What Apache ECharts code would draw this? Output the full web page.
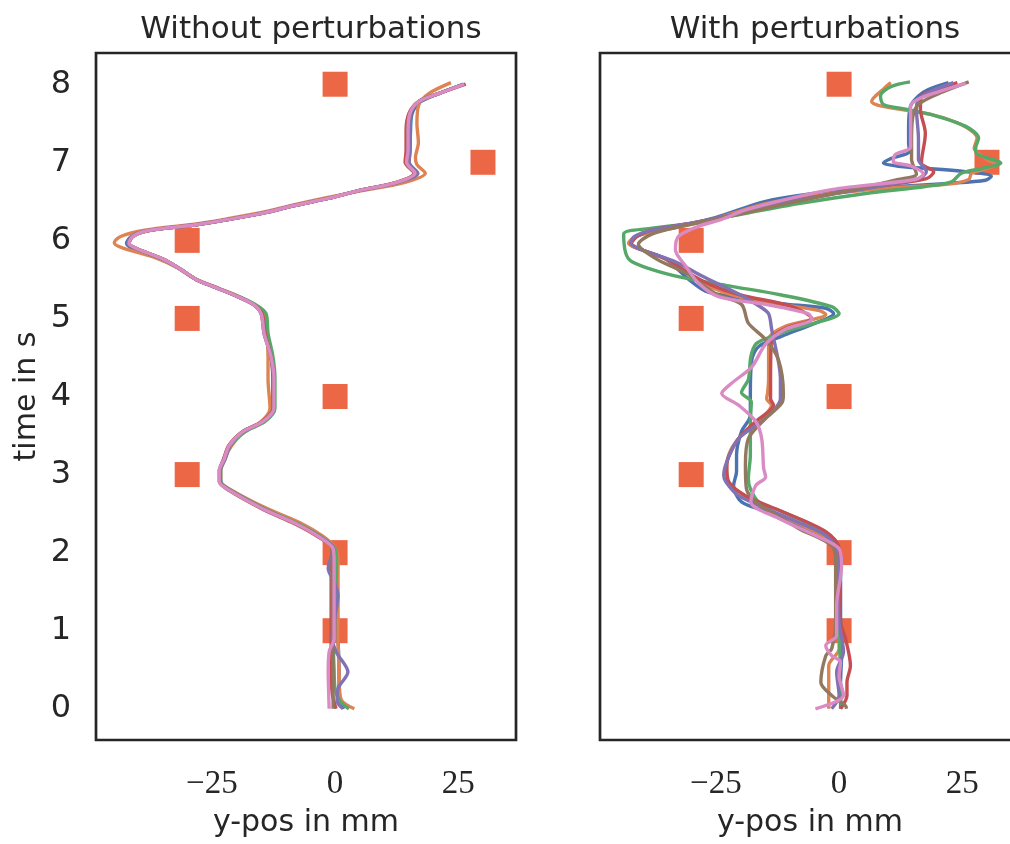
<!DOCTYPE html>
<html><head><meta charset="utf-8">
<script src="https://cdn.jsdelivr.net/npm/echarts@6/dist/echarts.min.js"></script>
<style>html,body{margin:0;padding:0;overflow:hidden;background:#fff}#c{width:1020px;height:844px}</style>
</head><body><div id="c"></div>
<script>
// ---- data ----
const titles = ['Without perturbations', 'With perturbations'];
const xTicks = [-25, 0, 25];
const yTicks = [0, 1, 2, 3, 4, 5, 6, 7, 8];
const targetX = [0, 30, -30, -30, 0, -30, 0, 0];
const targetT = [8, 7, 6, 5, 4, 3, 2, 1];
const seriesNames = ['blue', 'orange', 'green', 'red', 'purple', 'brown', 'pink'];

// left panel (x mm, t s)
const L_blue = [[26,8.0],[21,7.88],[17.2,7.77],[15.6,7.62],[15.3,7.4],[15.2,7.15],[15,7.0],[16.6,6.86],[12.6,6.74],[5,6.64],[-1.2,6.54],[-8,6.45],[-14.6,6.35],[-21.5,6.27],[-28.2,6.2],[-38.5,6.12],[-41.5,6.04],[-42.3,5.96],[-40.8,5.89],[-35,5.76],[-31.6,5.64],[-28.2,5.5],[-24.8,5.41],[-20.5,5.3],[-16.6,5.18],[-14.7,5.06],[-14,4.81],[-13,4.51],[-12.6,4.22],[-12.6,3.85],[-14.6,3.68],[-18.5,3.55],[-21.3,3.37],[-22.6,3.2],[-23.3,3.05],[-23.2,2.91],[-21.3,2.8],[-14.4,2.56],[-7.6,2.37],[-2.8,2.2],[0,2.05],[0.4,1.88],[0.4,1.4],[0.6,0.9],[0.8,0.5],[0.8,0.2],[1.8,0]];
const L_orange = [[23.5,8.02],[19,7.88],[17,7.74],[16.6,7.5],[16.9,7.25],[16.3,7.06],[16.6,6.97],[18.3,6.86],[14,6.74],[5,6.63],[-1.5,6.55],[-8,6.46],[-14.6,6.36],[-21.5,6.28],[-28.2,6.21],[-38.6,6.13],[-43.5,6.05],[-44.8,5.97],[-43,5.9],[-36.5,5.78],[-32,5.65],[-28.5,5.51],[-25,5.42],[-20.5,5.31],[-16.8,5.19],[-14.6,5.06],[-13.9,4.81],[-13.6,4.51],[-13.6,4.22],[-13.2,3.85],[-15,3.68],[-18.5,3.55],[-21,3.37],[-22.5,3.2],[-23.2,3.05],[-23.2,2.91],[-21,2.8],[-14,2.57],[-7,2.38],[-2.5,2.21],[0,2.06],[0.6,1.88],[0.6,1.4],[0.6,0.9],[0.8,0.5],[0.9,0.25],[1.4,0.1],[3.9,0]];
const L_green = [[26,8.0],[21,7.88],[17,7.78],[15.3,7.63],[15,7.4],[15,7.15],[14.7,7.0],[16.4,6.86],[12.6,6.74],[5,6.64],[-1.2,6.54],[-8,6.45],[-14.6,6.35],[-21.5,6.27],[-28.2,6.2],[-38.3,6.12],[-41.2,6.05],[-41.9,5.96],[-40.5,5.9],[-35,5.76],[-31.6,5.64],[-28.2,5.5],[-24.8,5.41],[-20.3,5.3],[-16.2,5.18],[-14,5.06],[-13.6,4.81],[-12.6,4.51],[-12.2,4.22],[-12.2,3.85],[-14.2,3.68],[-18.2,3.55],[-21.2,3.37],[-22.3,3.2],[-23.2,3.05],[-23.2,2.91],[-21.2,2.8],[-14.2,2.56],[-7.5,2.37],[-2.8,2.2],[0,2.05],[0.3,1.88],[0,1.4],[-0.4,0.9],[-0.2,0.5],[0,0.25],[1,0.1],[2.8,0]];
const L_red = [[26.5,8.0],[21,7.88],[17,7.78],[15,7.63],[14.4,7.4],[14.4,7.15],[14.2,7.0],[16,6.86],[12.2,6.74],[5,6.64],[-1.2,6.54],[-8,6.45],[-14.6,6.35],[-21.5,6.27],[-28.2,6.2],[-38.3,6.12],[-41,6.05],[-41.8,5.96],[-40.4,5.9],[-34.9,5.76],[-31.6,5.64],[-28.2,5.5],[-24.8,5.41],[-20.5,5.3],[-16.6,5.18],[-14.8,5.06],[-14.2,4.81],[-13,4.51],[-12.6,4.22],[-12.6,3.85],[-14.8,3.68],[-18.8,3.55],[-21.6,3.37],[-22.6,3.2],[-23.4,3.05],[-23.4,2.91],[-21.6,2.8],[-14.8,2.56],[-8.2,2.37],[-3.4,2.2],[-0.6,2.05],[-0.8,1.88],[-0.8,1.4],[-0.8,0.9],[-0.8,0.5],[-0.6,0.2],[0.2,0]];
const L_purple = [[26,8.0],[21,7.88],[17,7.78],[15.4,7.63],[15.2,7.4],[15.2,7.15],[15,7.0],[16.8,6.86],[12.6,6.74],[5,6.64],[-1.2,6.54],[-8,6.45],[-14.6,6.35],[-21.5,6.27],[-28.2,6.2],[-38.4,6.12],[-41.3,6.05],[-42,5.96],[-40.6,5.9],[-35,5.76],[-31.6,5.64],[-28.2,5.5],[-24.8,5.41],[-20.5,5.3],[-16.6,5.18],[-15,5.06],[-14.4,4.81],[-13,4.51],[-12.4,4.22],[-12.4,3.85],[-14.6,3.68],[-18.7,3.55],[-21.3,3.37],[-22.3,3.2],[-23.3,3.05],[-23.3,2.91],[-21.3,2.8],[-14.4,2.56],[-7.8,2.37],[-3,2.2],[-0.3,2.05],[-1.4,1.8],[0,1.6],[0.6,1.45],[0,1.2],[-0.6,0.9],[0.3,0.72],[2.6,0.47],[0.6,0.26],[0.4,0.1],[1.6,0]];
const L_brown = [[26.2,8.0],[21,7.88],[17,7.78],[15.2,7.63],[14.8,7.4],[14.8,7.15],[14.5,7.0],[16.2,6.86],[12.4,6.74],[5,6.64],[-1.2,6.54],[-8,6.45],[-14.6,6.35],[-21.5,6.27],[-28.2,6.2],[-38.3,6.12],[-41,6.05],[-41.8,5.96],[-40.4,5.9],[-34.9,5.76],[-31.6,5.64],[-28.2,5.5],[-24.8,5.41],[-20.5,5.3],[-16.6,5.18],[-15,5.06],[-14.4,4.81],[-13,4.51],[-12.4,4.22],[-12.4,3.85],[-14.6,3.68],[-18.7,3.55],[-21.5,3.37],[-22.5,3.2],[-23.5,3.05],[-23.5,2.91],[-21.5,2.8],[-14.6,2.56],[-7.9,2.37],[-3.2,2.2],[-0.6,2.05],[-0.6,1.5],[-0.5,0.9],[-0.4,0.5],[-0.4,0]];
const L_pink = [[26.2,8.0],[21,7.88],[17,7.78],[15.2,7.63],[14.8,7.4],[14.8,7.15],[14.5,7.0],[16.2,6.86],[12.4,6.74],[5,6.64],[-1.2,6.54],[-8,6.45],[-14.6,6.35],[-21.5,6.27],[-28.2,6.2],[-38.3,6.12],[-41,6.05],[-41.8,5.96],[-40.4,5.9],[-34.9,5.76],[-31.6,5.64],[-28.2,5.5],[-24.8,5.41],[-20.5,5.3],[-16.6,5.18],[-15,5.06],[-14.4,4.81],[-13,4.51],[-12.4,4.22],[-12.4,3.85],[-14.6,3.68],[-18.7,3.55],[-21.5,3.37],[-22.5,3.2],[-23.5,3.05],[-23.5,2.91],[-21.5,2.8],[-14.6,2.56],[-7.9,2.37],[-3.2,2.2],[-0.4,2.05],[-0.2,1.88],[-0.2,1.4],[-0.2,0.9],[-1.2,0.73],[-1.4,0.47],[-1.3,0.2],[-1.2,0]];

// right panel (x mm, t s)
const R_blue = [[22.2,8.02],[18,7.93],[16.1,7.85],[14.5,7.72],[14.1,7.45],[14.1,7.25],[14.3,7.14],[10.6,7.05],[9,6.99],[12,6.95],[25.7,6.88],[30.9,6.82],[29.7,6.77],[22.2,6.73],[12,6.69],[-1.5,6.63],[-14.9,6.5],[-25.1,6.29],[-35.2,6.14],[-41.3,6.05],[-42.3,5.95],[-40.1,5.88],[-35.2,5.76],[-30.5,5.5],[-27.1,5.35],[-21.8,5.28],[-11.7,5.19],[-2.7,5.13],[-1.1,5.06],[-4.8,4.94],[-11.7,4.77],[-16.3,4.64],[-17.7,4.47],[-18,4.04],[-18,3.76],[-19.8,3.55],[-20.8,3.25],[-20.8,3.04],[-21.4,2.86],[-19.8,2.65],[-14.9,2.53],[-8.2,2.35],[-1.5,2.15],[0.3,1.96],[0.3,1.11],[0.5,0.68],[0.3,0.34],[0.3,0]];
const R_orange = [[10.5,8.02],[9.2,7.95],[6.6,7.78],[8.6,7.72],[18.8,7.61],[25.5,7.46],[28,7.31],[27.4,7.18],[29.7,7.05],[31.7,6.97],[26.9,6.86],[26.3,6.78],[22.2,6.72],[12,6.68],[-1.5,6.6],[-14.9,6.47],[-25,6.28],[-35,6.14],[-41,6.06],[-42.7,5.96],[-40,5.88],[-34.5,5.74],[-30,5.55],[-26,5.4],[-21,5.29],[-11.7,5.18],[-4,5.1],[-2.7,5.05],[-10.9,4.9],[-14.3,4.73],[-14.3,4.22],[-14.5,4.05],[-14.7,3.97],[-13.7,3.89],[-16,3.7],[-20.4,3.46],[-22.4,3.25],[-22.8,3.04],[-22.6,2.91],[-20.4,2.78],[-13.7,2.53],[-6.8,2.33],[-1.5,2.14],[0,1.88],[0,1.2],[0,0.77],[-2.1,0.55],[-2.1,0]];
const R_green = [[14.4,8.03],[10.6,7.97],[8.4,7.85],[9,7.74],[13.5,7.68],[18.8,7.61],[25.7,7.46],[28.3,7.31],[27.7,7.18],[27.9,7.11],[32.8,6.99],[28.9,6.92],[24.8,6.86],[22.8,6.75],[17.5,6.69],[5.4,6.6],[-8.2,6.47],[-21.8,6.31],[-27.1,6.24],[-38.6,6.15],[-43.7,6.08],[-43.3,5.84],[-42.1,5.73],[-36.6,5.6],[-29.9,5.5],[-21.8,5.41],[-11.7,5.3],[-1.5,5.15],[0,5.06],[-2.1,4.99],[-9.6,4.86],[-14.9,4.74],[-16.9,4.67],[-17.9,4.51],[-18.4,4.22],[-19.8,4.05],[-17.8,3.93],[-18,3.68],[-18,3.25],[-18.4,2.95],[-18,2.82],[-16.3,2.65],[-11.7,2.53],[-4.8,2.33],[-0.7,2.15],[0,1.96],[0,1.2],[0.2,0.6],[0,0.37],[0.5,0]];
const R_red = [[24,8.02],[20,7.93],[16.7,7.85],[16.5,7.68],[17.5,7.37],[16.7,6.99],[19.2,6.88],[17.7,6.79],[5.4,6.67],[-8,6.52],[-20,6.35],[-30,6.22],[-38,6.13],[-41,6.05],[-42.1,5.96],[-40,5.88],[-35,5.76],[-30.5,5.58],[-26,5.43],[-20,5.3],[-10,5.16],[-5.6,5.0],[-10.9,4.87],[-13.7,4.73],[-13.9,4.22],[-13.9,3.97],[-13.3,3.89],[-16.9,3.68],[-20.4,3.46],[-22.8,3.12],[-22.4,2.91],[-19,2.73],[-11.7,2.53],[-2.7,2.27],[0,2.05],[0.3,1.11],[1.3,0.9],[2.3,0.55],[1.6,0.34],[1.6,0.17],[0.3,0]];
const R_purple = [[23.2,8.02],[19,7.92],[16.1,7.81],[15.7,7.68],[16.1,7.3],[16.1,7.04],[17.7,6.88],[16.1,6.79],[5,6.66],[-8,6.52],[-20,6.35],[-30,6.22],[-38,6.13],[-41.5,6.05],[-42.3,5.96],[-40,5.88],[-33,5.72],[-28,5.55],[-20,5.3],[-16,5.15],[-14.3,5.06],[-13.7,4.87],[-11.9,4.22],[-11.9,3.97],[-12.9,3.85],[-15.7,3.68],[-20.4,3.46],[-22.8,3.16],[-23.4,2.99],[-23,2.91],[-20.4,2.73],[-11.7,2.48],[-2.7,2.22],[-0.5,2.01],[0,1.11],[0.9,0.73],[-0.5,0.47],[0,0.17],[-1.5,0]];
const R_brown = [[26.3,8.03],[21,7.9],[16.5,7.76],[15.1,7.63],[14.7,7.3],[14.7,7.04],[15.7,6.85],[12,6.78],[3,6.65],[-10,6.48],[-22,6.31],[-32,6.18],[-38,6.08],[-40.7,5.95],[-37,5.76],[-31.1,5.58],[-25.1,5.32],[-19.8,5.18],[-18.4,4.94],[-14.9,4.73],[-12.3,4.47],[-11.3,4.04],[-11.5,3.93],[-14.9,3.72],[-18.4,3.46],[-19,3.12],[-18.8,2.82],[-16.9,2.65],[-8.2,2.31],[-1.5,2.09],[-0.7,1.88],[-0.7,1.11],[-1.5,0.77],[-2.7,0.68],[-3.7,0.34],[-1.5,0.17],[1.3,0.04],[1.5,0]];
const R_pink = [[25.7,8.01],[20,7.9],[16.1,7.81],[14.5,7.72],[14.5,7.2],[11.4,7.1],[11,7.01],[14.7,6.95],[17.1,6.85],[15.5,6.78],[-1.5,6.65],[-18.4,6.4],[-23.8,6.27],[-28.5,6.18],[-32.6,6.05],[-33.2,5.88],[-31.1,5.67],[-28.5,5.45],[-24.5,5.28],[-14.9,5.18],[-6.2,5.06],[-5.6,4.99],[-10.9,4.86],[-14.9,4.67],[-17.7,4.38],[-21.8,4.17],[-23.8,4.04],[-20.4,3.89],[-16.9,3.68],[-15.7,3.46],[-15.3,3.08],[-14.9,2.97],[-16.9,2.86],[-17.9,2.65],[-12.3,2.44],[-4.8,2.22],[0,2.05],[0.5,1.83],[-0.5,1.32],[-0.5,0.94],[-2.7,0.81],[-1.5,0.68],[0.3,0.6],[0,0.42],[0.9,0.17],[-0.7,0.09],[-4.8,0]];

const leftData = [L_blue, L_orange, L_green, L_red, L_purple, L_brown, L_pink];
const rightData = [R_blue, R_orange, R_green, R_red, R_purple, R_brown, R_pink];

// ---- style ----
const palette = ['#4C72B0', '#DD8452', '#55A868', '#C44E52', '#8172B3', '#937860', '#DA8BC3'];
const ink = '#262626';
const sans = '"DejaVu Sans", sans-serif';
const serif = '"Liberation Serif", "DejaVu Serif", serif';
const gridL = 96, gridTop = 53, gridW = 420, gridH = 687, gap = 504;

const fmtX = v => (v < 0 ? '\u2212' + Math.abs(v) : String(v));

const grids = [0, 1].map(i => ({
  left: gridL + i * gap, top: gridTop, width: gridW, height: gridH,
  show: true, borderColor: ink, borderWidth: 2.7, backgroundColor: 'transparent', containLabel: false
}));
const xAxes = [0, 1].map(i => ({
  type: 'value', gridIndex: i, min: -48.5, max: 36.7,
  axisLine: { show: false }, axisTick: { show: false }, splitLine: { show: false },
  axisLabel: { customValues: xTicks, formatter: fmtX, fontFamily: serif, fontSize: 33, color: ink, margin: 28, showMinLabel: true, showMaxLabel: true },
  name: 'y-pos in mm', nameLocation: 'middle', nameGap: 68,
  nameTextStyle: { fontFamily: sans, fontSize: 30, color: ink }
}));
const yAxes = [0, 1].map(i => ({
  type: 'value', gridIndex: i, min: -0.4, max: 8.4,
  axisLine: { show: false }, axisTick: { show: false }, splitLine: { show: false },
  axisLabel: i === 0 ? { customValues: yTicks, fontFamily: sans, fontSize: 32, color: ink, margin: 25, padding: [10, 0, 0, 0] } : { show: false },
  name: i === 0 ? 'time in s' : '', nameLocation: 'middle', nameGap: 54, nameRotate: 90,
  nameTextStyle: { fontFamily: sans, fontSize: 30, color: ink }
}));

const series = [];
[leftData, rightData].forEach((panel, gi) => {
  series.push({
    type: 'scatter', xAxisIndex: gi, yAxisIndex: gi, symbol: 'rect', symbolSize: 25,
    itemStyle: { color: '#EC6746', opacity: 1 }, z: 1, silent: true,
    data: targetX.map((x, k) => [x, targetT[k]])
  });
  panel.forEach((d, k) => {
    series.push({
      type: 'line', name: seriesNames[k], xAxisIndex: gi, yAxisIndex: gi, data: d,
      showSymbol: false, smooth: 0.3, clip: true, z: 2 + k,
      lineStyle: { color: palette[k], width: 3.4 }, silent: true
    });
  });
});

const chart = echarts.init(document.getElementById('c'), null, { renderer: 'canvas' });
chart.setOption({
  animation: false,
  backgroundColor: '#fff',
  title: titles.map((t, i) => ({
    text: t, left: gridL + i * gap + gridW / 2, top: 9, textAlign: 'center',
    textStyle: { fontFamily: sans, fontSize: 31, fontWeight: 'normal', color: ink }
  })),
  grid: grids, xAxis: xAxes, yAxis: yAxes, series
});
</script></body></html>
